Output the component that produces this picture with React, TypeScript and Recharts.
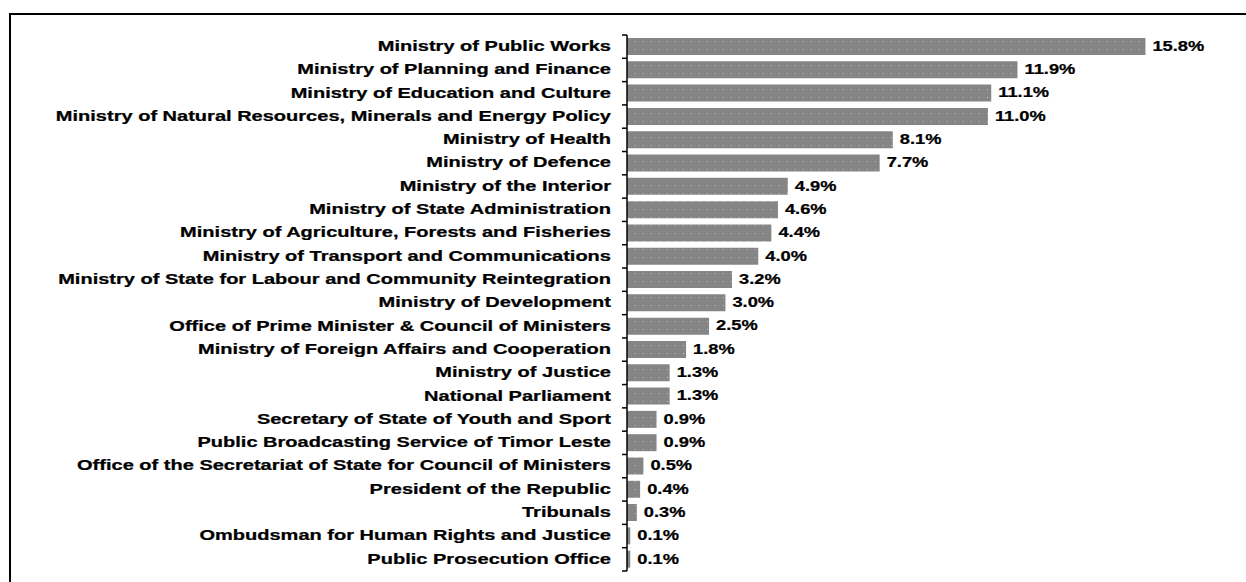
import React from "react";
import { BarChart, Bar, XAxis, YAxis, LabelList } from "recharts";

const categories: string[] = [
  "Ministry of Public Works",
  "Ministry of Planning and Finance",
  "Ministry of Education and Culture",
  "Ministry of Natural Resources, Minerals and Energy Policy",
  "Ministry of Health",
  "Ministry of Defence",
  "Ministry of the Interior",
  "Ministry of State Administration",
  "Ministry of Agriculture, Forests and Fisheries",
  "Ministry of Transport and Communications",
  "Ministry of State for Labour and Community Reintegration",
  "Ministry of Development",
  "Office of Prime Minister & Council of Ministers",
  "Ministry of Foreign Affairs and Cooperation",
  "Ministry of Justice",
  "National Parliament",
  "Secretary of State of Youth and Sport",
  "Public Broadcasting Service of Timor Leste",
  "Office of the Secretariat of State for Council of Ministers",
  "President of the Republic",
  "Tribunals",
  "Ombudsman for Human Rights and Justice",
  "Public Prosecution Office",
];

const shares: number[] = [
  15.8, 11.9, 11.1, 11.0, 8.1, 7.7, 4.9, 4.6, 4.4, 4.0, 3.2, 3.0, 2.5, 1.8, 1.3,
  1.3, 0.9, 0.9, 0.5, 0.4, 0.3, 0.1, 0.1,
];

const xDomain: [number, number] = [0, 16];

const data = categories.map((name, i) => ({ name, value: shares[i] }));

const W = 1246;
const H = 582;
const MARGIN = { top: 35, right: 94, bottom: 11, left: 0 };
const Y_AXIS_WIDTH = 627;
const TICK_SIZE = 6;
const TICK_MARGIN = 10;
const BAND = (H - MARGIN.top - MARGIN.bottom) / categories.length;
const FONT = "'Liberation Sans', Arial, Helvetica, sans-serif";

const CategoryTick = (props: any) => {
  const { x, y, payload, index } = props;
  const axisX = x + TICK_MARGIN + TICK_SIZE;
  const isLast = index === categories.length - 1;
  return (
    <g>
      <line x1={axisX - 5} x2={axisX} y1={y - BAND / 2} y2={y - BAND / 2} stroke="#000" strokeWidth={1.5} />
      {isLast && (
        <line x1={axisX - 5} x2={axisX} y1={y + BAND / 2} y2={y + BAND / 2} stroke="#000" strokeWidth={1.5} />
      )}
      <g transform={`translate(${x},${y - 1}) scale(1.335,1)`}>
        <text
          x={0}
          y={0}
          dy="0.355em"
          textAnchor="end"
          fontFamily={FONT}
          fontWeight="bold"
          fontSize={15}
          fill="#000"
          stroke="#000"
          strokeWidth={0.25}
        >
          {payload.value}
        </text>
      </g>
    </g>
  );
};

const ValueLabel = (props: any) => {
  const { x, y, width, height, value } = props;
  const lx = Number(x) + Number(width) + 7;
  const ly = Number(y) + Number(height) / 2 - 1;
  return (
    <g transform={`translate(${lx},${ly}) scale(1.22,1)`}>
      <text
        x={0}
        y={0}
        dy="0.355em"
        textAnchor="start"
        fontFamily={FONT}
        fontWeight="bold"
        fontSize={15}
        fill="#000"
        stroke="#000"
        strokeWidth={0.25}
      >
        {Number(value).toFixed(1) + "%"}
      </text>
    </g>
  );
};

export default function App() {
  return (
    <div
      style={{
        position: "absolute",
        left: 0,
        top: 0,
        width: W,
        height: H,
        overflow: "hidden",
        background: "#fff",
      }}
    >
      <div
        style={{
          position: "absolute",
          left: 9,
          top: 13,
          width: W + 20,
          height: H + 20,
          borderTop: "2px solid #000",
          borderLeft: "2px solid #000",
        }}
      />
      <div style={{ position: "absolute", left: 0, top: 0 }}>
        <BarChart width={W} height={H} data={data} layout="vertical" margin={MARGIN}>
          <defs>
            <pattern id="dots" width="8" height="8" patternUnits="userSpaceOnUse">
              <rect x="0" y="0" width="8" height="8" fill="#858585" />
              <rect x="3" y="1" width="1" height="1" fill="#c4c4c4" />
            </pattern>
          </defs>
          <XAxis type="number" domain={xDomain} hide />
          <YAxis
            type="category"
            dataKey="name"
            width={Y_AXIS_WIDTH}
            axisLine={{ stroke: "#000", strokeWidth: 1.5 }}
            tickLine={false}
            tickSize={TICK_SIZE}
            tickMargin={TICK_MARGIN}
            tick={<CategoryTick />}
            interval={0}
          />
          <Bar dataKey="value" fill="url(#dots)" barSize={17} isAnimationActive={false}>
            <LabelList dataKey="value" content={<ValueLabel />} />
          </Bar>
        </BarChart>
      </div>
    </div>
  );
}
